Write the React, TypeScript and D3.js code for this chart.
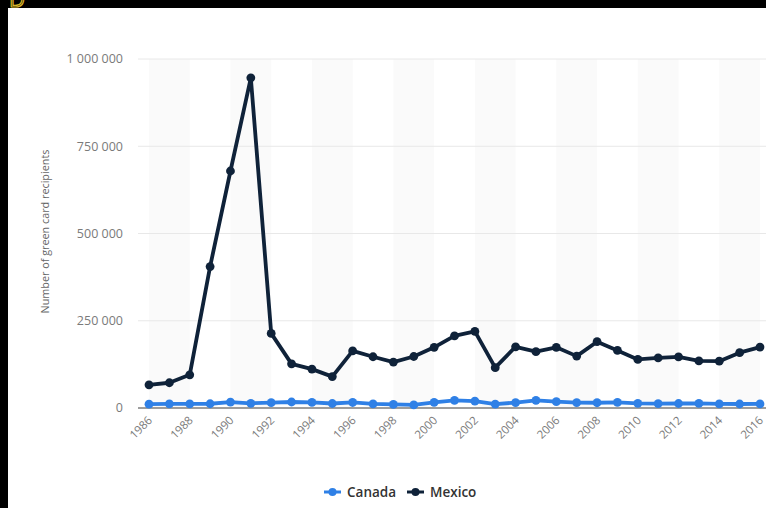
import React from "react";
import * as d3 from "d3";

const years: number[] = d3.range(1986, 2017);
const mexico: number[] = [
  66533, 72351, 95039, 405172, 679068, 946167, 213802, 126561, 111398, 89932,
  163572, 146865, 131575, 147573, 173919, 206426, 219380, 115585, 175411, 161445,
  173749, 148640, 189989, 164920, 139120, 143446, 146406, 135028, 134052, 158619, 174534,
];
const canada: number[] = [
  11039, 12096, 11783, 12151, 16812, 13504, 15205, 17156, 16068, 12932,
  15825, 11609, 10190, 8864, 16210, 21933, 19519, 11350, 15569, 21878,
  18207, 15495, 15109, 16140, 13328, 12800, 12932, 13181, 11570, 11484, 11760,
];
const yTicks: number[] = [0, 250000, 500000, 750000, 1000000];
const xTickYears: number[] = d3.range(1986, 2017, 2);
const bandStarts: number[] = d3.range(1986, 2016, 4);

const W = 766;
const H = 508;
const plotLeft = 138;
const plotRight = 766;
const FONT = "'Open Sans', 'Noto Sans', sans-serif";

const x = d3.scaleLinear().domain([1986, 2016]).range([149, 760]);
const y = d3.scaleLinear().domain([0, 1000000]).range([408, 59]);
const fmt = (v: number) => d3.format(",")(v).replace(/,/g, " ");

const CANADA = "#2f80e6";
const MEXICO = "#0f2239";

export default function App() {
  const line = d3
    .line<number>()
    .x((_, i) => x(years[i]))
    .y((d) => y(d));

  const series = [
    { name: "Canada", values: canada, color: CANADA },
    { name: "Mexico", values: mexico, color: MEXICO },
  ];

  return (
    <svg
      width={W}
      height={H}
      style={{ position: "fixed", left: 0, top: 0, display: "block" }}
    >
      <rect x={0} y={0} width={W} height={H} fill="#000" />
      <text x={9} y={7} fontFamily={FONT} fontSize={22} fill="none" stroke="#d8b628" strokeWidth={1.2}>
        D
      </text>
      <rect x={8} y={8} width={W - 8} height={H - 8} fill="#fff" />

      {bandStarts.map((b) => (
        <rect
          key={b}
          x={x(b)}
          y={y(1000000)}
          width={x(b + 2) - x(b)}
          height={y(0) - y(1000000)}
          fill="#fafafa"
        />
      ))}

      {yTicks.map((t) => (
        <g key={t}>
          {t !== 0 && (
            <line x1={plotLeft} x2={plotRight} y1={y(t)} y2={y(t)} stroke="#e8e8e8" strokeWidth={1} />
          )}
          <text
            x={123}
            y={y(t)}
            dy="0.35em"
            textAnchor="end"
            fontFamily={FONT}
            fontSize={12.5}
            fill="#7a7a7a"
          >
            {fmt(t)}
          </text>
        </g>
      ))}
      <line x1={plotLeft} x2={plotRight} y1={y(0)} y2={y(0)} stroke="#3c3c3c" strokeWidth={1} />

      <text
        transform={`translate(45, ${(y(0) + y(1000000)) / 2 - 2}) rotate(-90)`}
        textAnchor="middle"
        dy="0.35em"
        fontFamily={FONT}
        fontSize={10.8}
        fill="#666"
      >
        Number of green card recipients
      </text>

      {xTickYears.map((yr) => (
        <text
          key={yr}
          transform={`translate(${x(yr) + 4}, 421) rotate(-45)`}
          textAnchor="end"
          fontFamily={FONT}
          fontSize={11.5}
          fill="#7a7a7a"
        >
          {yr}
        </text>
      ))}

      {series.map((s) => (
        <g key={s.name}>
          <path d={line(s.values) || ""} fill="none" stroke={s.color} strokeWidth={3.8} strokeLinejoin="round" />
          {s.values.map((v, i) => (
            <circle key={i} cx={x(years[i])} cy={y(v)} r={4.4} fill={s.color} />
          ))}
        </g>
      ))}

      {series.map((s, i) => {
        const lx = i === 0 ? 324 : 407;
        return (
          <g key={s.name}>
            <line x1={lx} x2={lx + 17} y1={492} y2={492} stroke={s.color} strokeWidth={3} />
            <circle cx={lx + 8.5} cy={492} r={4} fill={s.color} />
            <text
              x={lx + 23}
              y={492}
              dy="0.35em"
              fontFamily={FONT}
              fontSize={13.5}
              fontWeight={600}
              fill="#333"
            >
              {s.name}
            </text>
          </g>
        );
      })}
    </svg>
  );
}
